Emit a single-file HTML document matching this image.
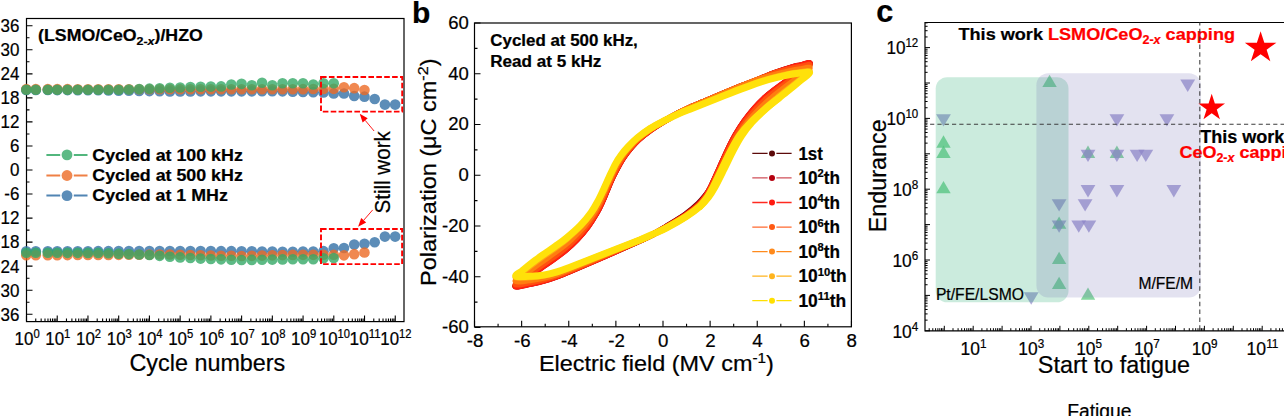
<!DOCTYPE html>
<html><head><meta charset="utf-8"><title>figure</title>
<style>
html,body{margin:0;padding:0;background:#fff;}
body{width:1284px;height:416px;overflow:hidden;}
svg{display:block;font-family:"Liberation Sans", sans-serif;}
svg text{font-family:"Liberation Sans", sans-serif;stroke:#000;stroke-width:0.22px;}
</style></head><body>
<svg width="1284" height="416" viewBox="0 0 1284 416">
<rect width="1284" height="416" fill="#fff"/>
<rect x="26.5" y="18.5" width="377.5" height="303.1" fill="none" stroke="#000" stroke-width="1.2"/>
<path d="M26.5 314.25h6M26.5 302.23h3M26.5 290.21h6M26.5 278.19h3M26.5 266.17h6M26.5 254.15h3M26.5 242.13h6M26.5 230.10h3M26.5 218.08h6M26.5 206.06h3M26.5 194.04h6M26.5 182.02h3M26.5 170.00h6M26.5 157.98h3M26.5 145.96h6M26.5 133.94h3M26.5 121.92h6M26.5 109.90h3M26.5 97.87h6M26.5 85.85h3M26.5 73.83h6M26.5 61.81h3M26.5 49.79h6M26.5 37.77h3M26.5 25.75h6M26.50 321.6v-6M35.75 321.6v-3M41.16 321.6v-3M45.00 321.6v-3M47.98 321.6v-3M50.41 321.6v-3M52.47 321.6v-3M54.25 321.6v-3M55.82 321.6v-3M57.23 321.6v-6M66.48 321.6v-3M71.89 321.6v-3M75.73 321.6v-3M78.71 321.6v-3M81.14 321.6v-3M83.20 321.6v-3M84.98 321.6v-3M86.55 321.6v-3M87.96 321.6v-6M97.21 321.6v-3M102.62 321.6v-3M106.46 321.6v-3M109.44 321.6v-3M111.87 321.6v-3M113.93 321.6v-3M115.71 321.6v-3M117.28 321.6v-3M118.69 321.6v-6M127.94 321.6v-3M133.35 321.6v-3M137.19 321.6v-3M140.17 321.6v-3M142.60 321.6v-3M144.66 321.6v-3M146.44 321.6v-3M148.01 321.6v-3M149.42 321.6v-6M158.67 321.6v-3M164.08 321.6v-3M167.92 321.6v-3M170.90 321.6v-3M173.33 321.6v-3M175.39 321.6v-3M177.17 321.6v-3M178.74 321.6v-3M180.15 321.6v-6M189.40 321.6v-3M194.81 321.6v-3M198.65 321.6v-3M201.63 321.6v-3M204.06 321.6v-3M206.12 321.6v-3M207.90 321.6v-3M209.47 321.6v-3M210.88 321.6v-6M220.13 321.6v-3M225.54 321.6v-3M229.38 321.6v-3M232.36 321.6v-3M234.79 321.6v-3M236.85 321.6v-3M238.63 321.6v-3M240.20 321.6v-3M241.61 321.6v-6M250.86 321.6v-3M256.27 321.6v-3M260.11 321.6v-3M263.09 321.6v-3M265.52 321.6v-3M267.58 321.6v-3M269.36 321.6v-3M270.93 321.6v-3M272.34 321.6v-6M281.59 321.6v-3M287.00 321.6v-3M290.84 321.6v-3M293.82 321.6v-3M296.25 321.6v-3M298.31 321.6v-3M300.09 321.6v-3M301.66 321.6v-3M303.07 321.6v-6M312.32 321.6v-3M317.73 321.6v-3M321.57 321.6v-3M324.55 321.6v-3M326.98 321.6v-3M329.04 321.6v-3M330.82 321.6v-3M332.39 321.6v-3M333.80 321.6v-6M343.05 321.6v-3M348.46 321.6v-3M352.30 321.6v-3M355.28 321.6v-3M357.71 321.6v-3M359.77 321.6v-3M361.55 321.6v-3M363.12 321.6v-3M364.53 321.6v-6M373.78 321.6v-3M379.19 321.6v-3M383.03 321.6v-3M386.01 321.6v-3M388.44 321.6v-3M390.50 321.6v-3M392.28 321.6v-3M393.85 321.6v-3M395.26 321.6v-6" stroke="#000" stroke-width="1.1" fill="none"/>
<text x="19.4" y="320.60" font-size="17.9" text-anchor="end" textLength="24.56" lengthAdjust="spacingAndGlyphs">-36</text>
<text x="19.4" y="296.56" font-size="17.9" text-anchor="end" textLength="24.56" lengthAdjust="spacingAndGlyphs">-30</text>
<text x="19.4" y="272.52" font-size="17.9" text-anchor="end" textLength="24.56" lengthAdjust="spacingAndGlyphs">-24</text>
<text x="19.4" y="248.48" font-size="17.9" text-anchor="end" textLength="24.56" lengthAdjust="spacingAndGlyphs">-18</text>
<text x="19.4" y="224.43" font-size="17.9" text-anchor="end" textLength="24.56" lengthAdjust="spacingAndGlyphs">-12</text>
<text x="19.4" y="200.39" font-size="17.9" text-anchor="end" textLength="15.11" lengthAdjust="spacingAndGlyphs">-6</text>
<text x="19.4" y="176.35" font-size="17.9" text-anchor="end" textLength="9.45" lengthAdjust="spacingAndGlyphs">0</text>
<text x="19.4" y="152.31" font-size="17.9" text-anchor="end" textLength="9.45" lengthAdjust="spacingAndGlyphs">6</text>
<text x="19.4" y="128.27" font-size="17.9" text-anchor="end" textLength="18.90" lengthAdjust="spacingAndGlyphs">12</text>
<text x="19.4" y="104.22" font-size="17.9" text-anchor="end" textLength="18.90" lengthAdjust="spacingAndGlyphs">18</text>
<text x="19.4" y="80.18" font-size="17.9" text-anchor="end" textLength="18.90" lengthAdjust="spacingAndGlyphs">24</text>
<text x="19.4" y="56.14" font-size="17.9" text-anchor="end" textLength="18.90" lengthAdjust="spacingAndGlyphs">30</text>
<text x="19.4" y="32.10" font-size="17.9" text-anchor="end" textLength="18.90" lengthAdjust="spacingAndGlyphs">36</text>
<text x="14.55" y="344.7" font-size="17.9" text-anchor="start" font-weight="normal" fill="#000" textLength="25.099999999999998" lengthAdjust="spacingAndGlyphs">10<tspan font-size="11.9" dy="-6.6">0</tspan></text>
<text x="45.28" y="344.7" font-size="17.9" text-anchor="start" font-weight="normal" fill="#000" textLength="25.099999999999998" lengthAdjust="spacingAndGlyphs">10<tspan font-size="11.9" dy="-6.6">1</tspan></text>
<text x="76.01" y="344.7" font-size="17.9" text-anchor="start" font-weight="normal" fill="#000" textLength="25.099999999999998" lengthAdjust="spacingAndGlyphs">10<tspan font-size="11.9" dy="-6.6">2</tspan></text>
<text x="106.74" y="344.7" font-size="17.9" text-anchor="start" font-weight="normal" fill="#000" textLength="25.099999999999998" lengthAdjust="spacingAndGlyphs">10<tspan font-size="11.9" dy="-6.6">3</tspan></text>
<text x="137.47" y="344.7" font-size="17.9" text-anchor="start" font-weight="normal" fill="#000" textLength="25.099999999999998" lengthAdjust="spacingAndGlyphs">10<tspan font-size="11.9" dy="-6.6">4</tspan></text>
<text x="168.2" y="344.7" font-size="17.9" text-anchor="start" font-weight="normal" fill="#000" textLength="25.099999999999998" lengthAdjust="spacingAndGlyphs">10<tspan font-size="11.9" dy="-6.6">5</tspan></text>
<text x="198.93" y="344.7" font-size="17.9" text-anchor="start" font-weight="normal" fill="#000" textLength="25.099999999999998" lengthAdjust="spacingAndGlyphs">10<tspan font-size="11.9" dy="-6.6">6</tspan></text>
<text x="229.66" y="344.7" font-size="17.9" text-anchor="start" font-weight="normal" fill="#000" textLength="25.099999999999998" lengthAdjust="spacingAndGlyphs">10<tspan font-size="11.9" dy="-6.6">7</tspan></text>
<text x="260.39" y="344.7" font-size="17.9" text-anchor="start" font-weight="normal" fill="#000" textLength="25.099999999999998" lengthAdjust="spacingAndGlyphs">10<tspan font-size="11.9" dy="-6.6">8</tspan></text>
<text x="291.12" y="344.7" font-size="17.9" text-anchor="start" font-weight="normal" fill="#000" textLength="25.099999999999998" lengthAdjust="spacingAndGlyphs">10<tspan font-size="11.9" dy="-6.6">9</tspan></text>
<text x="318.85" y="344.7" font-size="17.9" text-anchor="start" font-weight="normal" fill="#000" textLength="31.099999999999998" lengthAdjust="spacingAndGlyphs">10<tspan font-size="11.9" dy="-6.6">10</tspan></text>
<text x="349.58" y="344.7" font-size="17.9" text-anchor="start" font-weight="normal" fill="#000" textLength="31.099999999999998" lengthAdjust="spacingAndGlyphs">10<tspan font-size="11.9" dy="-6.6">11</tspan></text>
<text x="380.31" y="344.7" font-size="17.9" text-anchor="start" font-weight="normal" fill="#000" textLength="31.099999999999998" lengthAdjust="spacingAndGlyphs">10<tspan font-size="11.9" dy="-6.6">12</tspan></text>
<text x="207.4" y="370.9" font-size="23.6" text-anchor="middle" textLength="155.8" lengthAdjust="spacingAndGlyphs">Cycle numbers</text>
<text x="38.1" y="40.5" font-size="16.4" font-weight="bold" textLength="164.7" lengthAdjust="spacingAndGlyphs">(LSMO/CeO<tspan font-size="11.5" dy="4.2">2-<tspan font-style="italic">x</tspan></tspan><tspan dy="-4.2">)/HZO</tspan></text>
<g fill="#3370A6" fill-opacity="0.8"><circle cx="26.30" cy="89.99" r="5.3"/><circle cx="26.30" cy="251.34" r="5.3"/><circle cx="35.80" cy="90.02" r="5.3"/><circle cx="35.80" cy="251.32" r="5.3"/><circle cx="47.80" cy="90.06" r="5.3"/><circle cx="47.80" cy="251.29" r="5.3"/><circle cx="57.25" cy="90.09" r="5.3"/><circle cx="57.25" cy="251.27" r="5.3"/><circle cx="67.49" cy="90.12" r="5.3"/><circle cx="67.49" cy="251.24" r="5.3"/><circle cx="77.73" cy="90.16" r="5.3"/><circle cx="77.73" cy="251.22" r="5.3"/><circle cx="87.97" cy="90.19" r="5.3"/><circle cx="87.97" cy="251.19" r="5.3"/><circle cx="98.21" cy="90.32" r="5.3"/><circle cx="98.21" cy="251.17" r="5.3"/><circle cx="108.45" cy="90.48" r="5.3"/><circle cx="108.45" cy="251.14" r="5.3"/><circle cx="118.69" cy="90.63" r="5.3"/><circle cx="118.69" cy="251.12" r="5.3"/><circle cx="128.93" cy="90.78" r="5.3"/><circle cx="128.93" cy="251.10" r="5.3"/><circle cx="139.17" cy="90.94" r="5.3"/><circle cx="139.17" cy="251.07" r="5.3"/><circle cx="149.41" cy="91.09" r="5.3"/><circle cx="149.41" cy="251.05" r="5.3"/><circle cx="159.65" cy="91.24" r="5.3"/><circle cx="159.65" cy="251.02" r="5.3"/><circle cx="169.89" cy="91.40" r="5.3"/><circle cx="169.89" cy="251.00" r="5.3"/><circle cx="180.13" cy="91.39" r="5.3"/><circle cx="180.13" cy="251.03" r="5.3"/><circle cx="190.37" cy="91.38" r="5.3"/><circle cx="190.37" cy="251.05" r="5.3"/><circle cx="200.61" cy="91.37" r="5.3"/><circle cx="200.61" cy="251.08" r="5.3"/><circle cx="210.85" cy="91.36" r="5.3"/><circle cx="210.85" cy="251.11" r="5.3"/><circle cx="221.09" cy="91.35" r="5.3"/><circle cx="221.09" cy="251.14" r="5.3"/><circle cx="231.33" cy="91.34" r="5.3"/><circle cx="231.33" cy="251.16" r="5.3"/><circle cx="241.57" cy="91.33" r="5.3"/><circle cx="241.57" cy="251.19" r="5.3"/><circle cx="251.81" cy="91.33" r="5.3"/><circle cx="251.81" cy="251.29" r="5.3"/><circle cx="262.05" cy="91.32" r="5.3"/><circle cx="262.05" cy="251.43" r="5.3"/><circle cx="272.29" cy="91.31" r="5.3"/><circle cx="272.29" cy="251.56" r="5.3"/><circle cx="282.53" cy="91.36" r="5.3"/><circle cx="282.53" cy="251.70" r="5.3"/><circle cx="292.77" cy="91.63" r="5.3"/><circle cx="292.77" cy="251.76" r="5.3"/><circle cx="303.01" cy="91.89" r="5.3"/><circle cx="303.01" cy="251.60" r="5.3"/><circle cx="313.25" cy="92.15" r="5.3"/><circle cx="313.25" cy="251.45" r="5.3"/><circle cx="323.49" cy="92.45" r="5.3"/><circle cx="323.49" cy="251.16" r="5.3"/><circle cx="333.73" cy="93.40" r="5.3"/><circle cx="333.73" cy="248.20" r="5.3"/><circle cx="343.97" cy="93.49" r="5.3"/><circle cx="343.97" cy="248.07" r="5.3"/><circle cx="354.21" cy="96.02" r="5.3"/><circle cx="354.21" cy="244.58" r="5.3"/><circle cx="364.45" cy="96.65" r="5.3"/><circle cx="364.45" cy="243.86" r="5.3"/><circle cx="374.69" cy="98.96" r="5.3"/><circle cx="374.69" cy="242.24" r="5.3"/><circle cx="384.93" cy="104.60" r="5.3"/><circle cx="384.93" cy="236.60" r="5.3"/><circle cx="395.17" cy="104.60" r="5.3"/><circle cx="395.17" cy="236.60" r="5.3"/></g>
<g fill="#EC6A24" fill-opacity="0.8"><circle cx="26.30" cy="89.13" r="5.3"/><circle cx="26.30" cy="255.22" r="5.3"/><circle cx="35.80" cy="89.14" r="5.3"/><circle cx="35.80" cy="255.19" r="5.3"/><circle cx="47.80" cy="89.15" r="5.3"/><circle cx="47.80" cy="255.16" r="5.3"/><circle cx="57.25" cy="89.16" r="5.3"/><circle cx="57.25" cy="255.13" r="5.3"/><circle cx="67.49" cy="89.17" r="5.3"/><circle cx="67.49" cy="255.10" r="5.3"/><circle cx="77.73" cy="89.18" r="5.3"/><circle cx="77.73" cy="255.07" r="5.3"/><circle cx="87.97" cy="89.19" r="5.3"/><circle cx="87.97" cy="255.04" r="5.3"/><circle cx="98.21" cy="89.20" r="5.3"/><circle cx="98.21" cy="255.01" r="5.3"/><circle cx="108.45" cy="89.21" r="5.3"/><circle cx="108.45" cy="254.94" r="5.3"/><circle cx="118.69" cy="89.22" r="5.3"/><circle cx="118.69" cy="254.87" r="5.3"/><circle cx="128.93" cy="89.23" r="5.3"/><circle cx="128.93" cy="254.79" r="5.3"/><circle cx="139.17" cy="89.24" r="5.3"/><circle cx="139.17" cy="254.72" r="5.3"/><circle cx="149.41" cy="89.25" r="5.3"/><circle cx="149.41" cy="254.65" r="5.3"/><circle cx="159.65" cy="89.26" r="5.3"/><circle cx="159.65" cy="254.57" r="5.3"/><circle cx="169.89" cy="89.27" r="5.3"/><circle cx="169.89" cy="254.50" r="5.3"/><circle cx="180.13" cy="89.28" r="5.3"/><circle cx="180.13" cy="254.75" r="5.3"/><circle cx="190.37" cy="89.29" r="5.3"/><circle cx="190.37" cy="255.00" r="5.3"/><circle cx="200.61" cy="89.30" r="5.3"/><circle cx="200.61" cy="255.25" r="5.3"/><circle cx="210.85" cy="89.30" r="5.3"/><circle cx="210.85" cy="255.50" r="5.3"/><circle cx="221.09" cy="89.30" r="5.3"/><circle cx="221.09" cy="255.68" r="5.3"/><circle cx="231.33" cy="89.30" r="5.3"/><circle cx="231.33" cy="255.82" r="5.3"/><circle cx="241.57" cy="89.30" r="5.3"/><circle cx="241.57" cy="255.95" r="5.3"/><circle cx="251.81" cy="89.30" r="5.3"/><circle cx="251.81" cy="255.83" r="5.3"/><circle cx="262.05" cy="89.30" r="5.3"/><circle cx="262.05" cy="255.58" r="5.3"/><circle cx="272.29" cy="89.30" r="5.3"/><circle cx="272.29" cy="255.33" r="5.3"/><circle cx="282.53" cy="89.28" r="5.3"/><circle cx="282.53" cy="255.08" r="5.3"/><circle cx="292.77" cy="89.20" r="5.3"/><circle cx="292.77" cy="254.89" r="5.3"/><circle cx="303.01" cy="89.13" r="5.3"/><circle cx="303.01" cy="254.87" r="5.3"/><circle cx="313.25" cy="89.05" r="5.3"/><circle cx="313.25" cy="254.85" r="5.3"/><circle cx="323.49" cy="88.97" r="5.3"/><circle cx="323.49" cy="254.82" r="5.3"/><circle cx="333.73" cy="88.86" r="5.3"/><circle cx="333.73" cy="254.81" r="5.3"/><circle cx="343.97" cy="87.23" r="5.3"/><circle cx="343.97" cy="255.36" r="5.3"/><circle cx="354.21" cy="88.16" r="5.3"/><circle cx="354.21" cy="254.15" r="5.3"/><circle cx="364.45" cy="90.00" r="5.3"/><circle cx="364.45" cy="252.50" r="5.3"/></g>
<g fill="#34A966" fill-opacity="0.8"><circle cx="26.30" cy="89.70" r="5.3"/><circle cx="26.30" cy="252.75" r="5.3"/><circle cx="35.80" cy="89.70" r="5.3"/><circle cx="35.80" cy="252.77" r="5.3"/><circle cx="47.80" cy="89.70" r="5.3"/><circle cx="47.80" cy="252.80" r="5.3"/><circle cx="57.25" cy="89.70" r="5.3"/><circle cx="57.25" cy="252.81" r="5.3"/><circle cx="67.49" cy="89.70" r="5.3"/><circle cx="67.49" cy="252.83" r="5.3"/><circle cx="77.73" cy="89.70" r="5.3"/><circle cx="77.73" cy="252.86" r="5.3"/><circle cx="87.97" cy="89.70" r="5.3"/><circle cx="87.97" cy="252.88" r="5.3"/><circle cx="98.21" cy="89.70" r="5.3"/><circle cx="98.21" cy="252.90" r="5.3"/><circle cx="108.45" cy="89.70" r="5.3"/><circle cx="108.45" cy="253.24" r="5.3"/><circle cx="118.69" cy="89.70" r="5.3"/><circle cx="118.69" cy="253.66" r="5.3"/><circle cx="128.93" cy="89.53" r="5.3"/><circle cx="128.93" cy="254.08" r="5.3"/><circle cx="139.17" cy="89.08" r="5.3"/><circle cx="139.17" cy="254.50" r="5.3"/><circle cx="149.41" cy="88.63" r="5.3"/><circle cx="149.41" cy="254.94" r="5.3"/><circle cx="159.65" cy="88.21" r="5.3"/><circle cx="159.65" cy="255.86" r="5.3"/><circle cx="169.89" cy="87.80" r="5.3"/><circle cx="169.89" cy="256.79" r="5.3"/><circle cx="180.13" cy="87.46" r="5.3"/><circle cx="180.13" cy="257.41" r="5.3"/><circle cx="190.37" cy="87.12" r="5.3"/><circle cx="190.37" cy="258.02" r="5.3"/><circle cx="200.61" cy="86.79" r="5.3"/><circle cx="200.61" cy="258.62" r="5.3"/><circle cx="210.85" cy="86.59" r="5.3"/><circle cx="210.85" cy="259.00" r="5.3"/><circle cx="221.09" cy="86.38" r="5.3"/><circle cx="221.09" cy="259.37" r="5.3"/><circle cx="231.33" cy="84.57" r="5.3"/><circle cx="231.33" cy="259.73" r="5.3"/><circle cx="241.57" cy="83.87" r="5.3"/><circle cx="241.57" cy="259.93" r="5.3"/><circle cx="251.81" cy="85.20" r="5.3"/><circle cx="251.81" cy="259.89" r="5.3"/><circle cx="262.05" cy="82.71" r="5.3"/><circle cx="262.05" cy="259.73" r="5.3"/><circle cx="272.29" cy="85.20" r="5.3"/><circle cx="272.29" cy="259.58" r="5.3"/><circle cx="282.53" cy="83.30" r="5.3"/><circle cx="282.53" cy="259.42" r="5.3"/><circle cx="292.77" cy="83.30" r="5.3"/><circle cx="292.77" cy="259.30" r="5.3"/><circle cx="303.01" cy="83.30" r="5.3"/><circle cx="303.01" cy="259.30" r="5.3"/><circle cx="313.25" cy="84.49" r="5.3"/><circle cx="313.25" cy="259.18" r="5.3"/><circle cx="323.49" cy="83.30" r="5.3"/><circle cx="323.49" cy="258.19" r="5.3"/><circle cx="333.73" cy="83.29" r="5.3"/><circle cx="333.73" cy="258.00" r="5.3"/></g>
<path d="M46.4 154.9H60.2M73.8 154.9H87.5" stroke="#34A966" stroke-opacity="0.85" stroke-width="2"/>
<circle cx="67" cy="154.9" r="5.4" fill="#34A966" fill-opacity="0.8"/>
<text x="92.3" y="160.6" font-size="16.3" font-weight="bold" textLength="150.5" lengthAdjust="spacingAndGlyphs">Cycled at 100 kHz</text>
<path d="M46.4 175.5H60.2M73.8 175.5H87.5" stroke="#EC6A24" stroke-opacity="0.85" stroke-width="2"/>
<circle cx="67" cy="175.5" r="5.4" fill="#EC6A24" fill-opacity="0.8"/>
<text x="92.3" y="181.2" font-size="16.3" font-weight="bold" textLength="150.5" lengthAdjust="spacingAndGlyphs">Cycled at 500 kHz</text>
<path d="M46.4 195.6H60.2M73.8 195.6H87.5" stroke="#3370A6" stroke-opacity="0.85" stroke-width="2"/>
<circle cx="67" cy="195.6" r="5.4" fill="#3370A6" fill-opacity="0.8"/>
<text x="92.3" y="201.29999999999998" font-size="16.3" font-weight="bold" textLength="135.5" lengthAdjust="spacingAndGlyphs">Cycled at 1 MHz</text>
<rect x="321" y="77" width="81.19999999999999" height="34.599999999999994" fill="none" stroke="#FF0000" stroke-width="1.9" stroke-dasharray="5.6 2.3"/>
<rect x="321" y="229" width="81.10000000000002" height="35.10000000000002" fill="none" stroke="#FF0000" stroke-width="1.9" stroke-dasharray="5.6 2.3"/>
<path d="M374.1 131L365.16 120.32" stroke="#FF0000" stroke-width="0.9"/><path d="M359.7 113.8L367.69 118.20L362.63 122.44Z" fill="#FF0000"/>
<path d="M372.7 209.9L363.68 220.28" stroke="#FF0000" stroke-width="0.9"/><path d="M358.1 226.7L361.18 218.12L366.17 222.45Z" fill="#FF0000"/>
<text transform="translate(389.9 213.6) rotate(-90)" font-size="22.3" textLength="82.5" lengthAdjust="spacingAndGlyphs">Still work</text>
<text x="411.9" y="23.4" font-size="30" font-weight="bold">b</text>
<path d="M809.51 64.18C811.48 61.77 802.62 65.29 800.07 65.75C797.51 66.22 798.33 65.75 794.17 66.95C790.01 68.15 780.74 70.98 775.10 72.95C769.45 74.92 766.14 76.49 760.30 78.77C754.46 81.05 745.94 84.28 740.05 86.63C734.16 88.97 730.82 90.42 724.98 92.85C719.14 95.28 710.82 98.75 705.00 101.20C699.18 103.65 694.21 105.72 690.08 107.56C685.95 109.40 684.80 109.82 680.23 112.23C675.66 114.63 667.63 119.04 662.65 122.02C657.66 124.99 654.37 127.17 650.34 130.09C646.31 133.01 641.82 136.54 638.49 139.56C635.16 142.57 632.68 145.50 630.35 148.20C628.02 150.90 626.31 153.23 624.52 155.76C622.74 158.30 621.62 159.91 619.65 163.40C617.68 166.90 614.83 172.36 612.72 176.76C610.62 181.15 608.79 185.68 607.04 189.77C605.29 193.87 603.98 197.47 602.22 201.30C600.46 205.14 598.87 208.68 596.48 212.81C594.09 216.93 591.23 221.58 587.89 226.06C584.55 230.54 580.21 235.71 576.46 239.67C572.72 243.63 569.16 246.70 565.44 249.81C561.72 252.92 557.84 255.67 554.15 258.35C550.45 261.03 547.33 263.03 543.26 265.87C539.19 268.71 534.37 272.06 529.73 275.39C525.09 278.73 515.15 284.54 515.42 285.88C515.70 287.21 526.52 284.31 531.37 283.38C536.23 282.46 540.14 281.56 544.54 280.31C548.94 279.07 553.52 277.48 557.76 275.93C561.99 274.38 562.07 274.36 569.96 271.03C577.85 267.70 593.47 261.01 605.08 255.97C616.69 250.92 631.64 244.37 639.64 240.77C647.63 237.16 648.66 236.66 653.07 234.33C657.48 232.00 660.68 230.11 666.08 226.78C671.48 223.45 680.11 218.23 685.49 214.38C690.86 210.52 695.00 206.77 698.33 203.66C701.66 200.55 703.38 198.37 705.46 195.69C707.54 193.02 708.43 192.15 710.79 187.60C713.15 183.05 716.75 174.64 719.60 168.41C722.45 162.18 725.21 155.75 727.89 150.20C730.57 144.65 732.94 139.87 735.68 135.09C738.43 130.31 741.17 125.99 744.36 121.55C747.54 117.11 751.40 112.31 754.77 108.46C758.15 104.60 761.59 101.22 764.60 98.41C767.61 95.61 768.89 94.65 772.83 91.62C776.76 88.58 782.11 84.77 788.22 80.20C794.34 75.63 807.53 66.59 809.51 64.18Z" fill="none" stroke="#5C0A0A" stroke-width="6.1" stroke-linejoin="round"/>
<path d="M809.50 63.99C811.52 61.56 802.62 65.12 800.07 65.59C797.51 66.06 798.33 65.58 794.16 66.80C790.00 68.03 780.74 70.96 775.10 72.95C769.45 74.95 766.14 76.49 760.30 78.77C754.46 81.05 745.94 84.28 740.05 86.63C734.16 88.97 730.82 90.42 724.98 92.85C719.14 95.28 710.82 98.75 705.00 101.20C699.18 103.65 694.21 105.72 690.08 107.56C685.95 109.40 684.81 109.81 680.23 112.23C675.66 114.64 667.62 119.05 662.64 122.04C657.65 125.02 654.36 127.20 650.34 130.13C646.32 133.06 641.84 136.59 638.51 139.60C635.19 142.62 632.72 145.54 630.40 148.23C628.08 150.93 626.38 153.24 624.61 155.77C622.83 158.30 621.71 159.90 619.74 163.40C617.77 166.90 614.90 172.37 612.80 176.77C610.70 181.16 608.87 185.69 607.13 189.78C605.38 193.87 604.08 197.46 602.32 201.30C600.57 205.14 598.98 208.69 596.60 212.81C594.22 216.94 591.37 221.59 588.05 226.07C584.74 230.55 580.42 235.74 576.69 239.70C572.96 243.67 569.38 246.76 565.66 249.88C561.94 253.01 558.07 255.76 554.38 258.44C550.68 261.11 547.59 263.09 543.51 265.94C539.43 268.78 534.58 272.13 529.90 275.49C525.22 278.85 515.17 284.75 515.41 286.09C515.66 287.43 526.52 284.48 531.37 283.54C536.23 282.60 540.14 281.69 544.54 280.44C548.94 279.18 553.52 277.58 557.76 276.03C561.99 274.48 562.07 274.45 569.96 271.12C577.85 267.78 593.47 261.08 605.08 256.03C616.69 250.97 631.63 244.41 639.63 240.79C647.63 237.17 648.65 236.61 653.06 234.31C657.47 232.01 660.66 230.26 666.09 227.01C671.52 223.75 680.20 218.60 685.63 214.79C691.06 210.98 695.31 207.31 698.66 204.15C702.02 200.99 703.74 198.59 705.75 195.83C707.76 193.07 708.41 192.17 710.70 187.60C712.99 183.03 716.65 174.64 719.49 168.41C722.34 162.17 725.09 155.76 727.77 150.20C730.44 144.65 732.81 139.86 735.55 135.08C738.28 130.30 741.02 125.98 744.18 121.54C747.35 117.10 751.18 112.30 754.53 108.44C757.89 104.59 761.29 101.23 764.29 98.42C767.29 95.62 768.58 94.65 772.53 91.61C776.47 88.58 781.80 84.80 787.96 80.19C794.12 75.59 807.49 66.42 809.50 63.99Z" fill="none" stroke="#B5000F" stroke-width="6.1" stroke-linejoin="round"/>
<path d="M809.50 63.80C811.56 61.34 802.62 64.95 800.07 65.43C797.51 65.90 798.32 65.40 794.16 66.65C790.00 67.91 780.74 70.93 775.10 72.95C769.46 74.97 766.14 76.49 760.30 78.77C754.46 81.05 745.94 84.28 740.05 86.63C734.16 88.97 730.82 90.42 724.98 92.85C719.14 95.28 710.82 98.75 705.00 101.20C699.18 103.65 694.21 105.72 690.08 107.56C685.95 109.40 684.81 109.81 680.23 112.23C675.66 114.64 667.61 119.07 662.63 122.06C657.65 125.05 654.36 127.24 650.35 130.18C646.33 133.11 641.85 136.64 638.54 139.65C635.22 142.67 632.76 145.58 630.45 148.27C628.15 150.96 626.46 153.26 624.69 155.78C622.92 158.30 621.80 159.90 619.83 163.39C617.86 166.89 614.98 172.37 612.88 176.77C610.77 181.17 608.95 185.69 607.21 189.78C605.47 193.87 604.17 197.46 602.42 201.30C600.67 205.14 599.08 208.69 596.72 212.82C594.35 216.95 591.52 221.60 588.22 226.09C584.92 230.57 580.63 235.76 576.91 239.74C573.19 243.72 569.60 246.83 565.88 249.96C562.16 253.09 558.29 255.85 554.60 258.53C550.92 261.20 547.85 263.15 543.76 266.00C539.67 268.84 534.79 272.21 530.07 275.59C525.34 278.97 515.18 284.95 515.40 286.30C515.62 287.65 526.51 284.66 531.37 283.70C536.23 282.74 540.14 281.82 544.54 280.56C548.94 279.30 553.52 277.69 557.76 276.13C562.00 274.57 562.07 274.55 569.96 271.21C577.85 267.87 593.47 261.15 605.08 256.09C616.69 251.02 631.63 244.45 639.62 240.82C647.62 237.19 648.64 236.55 653.05 234.29C657.46 232.02 660.64 230.41 666.10 227.23C671.55 224.05 680.29 218.97 685.77 215.21C691.26 211.44 695.62 207.85 699.00 204.64C702.38 201.44 704.10 198.80 706.04 195.96C707.97 193.12 708.38 192.20 710.61 187.61C712.83 183.01 716.55 174.64 719.39 168.41C722.23 162.17 724.97 155.76 727.65 150.20C730.32 144.65 732.68 139.85 735.41 135.07C738.14 130.29 740.86 125.97 744.01 121.53C747.15 117.09 750.97 112.28 754.30 108.43C757.63 104.59 760.99 101.24 763.98 98.43C766.97 95.63 768.28 94.65 772.23 91.61C776.18 88.57 781.48 84.82 787.70 80.18C793.91 75.55 807.44 66.26 809.50 63.80Z" fill="none" stroke="#FF2010" stroke-width="6.1" stroke-linejoin="round"/>
<path d="M809.53 65.61C811.17 63.39 802.62 66.56 800.06 66.97C797.50 67.38 798.34 67.09 794.18 68.08C790.02 69.08 780.75 71.17 775.10 72.95C769.45 74.73 766.14 76.49 760.30 78.77C754.46 81.05 745.94 84.28 740.05 86.63C734.16 88.97 730.82 90.42 724.98 92.85C719.14 95.28 710.82 98.75 705.00 101.20C699.18 103.65 694.21 105.72 690.08 107.56C685.95 109.40 684.79 109.84 680.23 112.23C675.67 114.61 667.71 118.93 662.72 121.86C657.74 124.78 654.38 126.87 650.31 129.76C646.25 132.65 641.70 136.17 638.31 139.20C634.92 142.23 632.35 145.18 629.95 147.93C627.55 150.68 625.74 153.10 623.91 155.69C622.08 158.27 620.93 159.94 618.96 163.45C617.00 166.95 614.24 172.33 612.14 176.71C610.05 181.10 608.20 185.65 606.42 189.75C604.64 193.85 603.26 197.49 601.45 201.32C599.65 205.16 598.04 208.65 595.58 212.76C593.11 216.86 590.12 221.51 586.65 225.95C583.19 230.40 578.61 235.55 574.79 239.43C570.98 243.32 567.49 246.22 563.77 249.26C560.04 252.30 556.17 255.01 552.44 257.70C548.71 260.39 545.38 262.58 541.38 265.40C537.39 268.23 532.80 271.50 528.48 274.64C524.17 277.79 515.03 283.03 515.51 284.29C516.00 285.54 526.55 283.01 531.39 282.20C536.23 281.38 540.15 280.57 544.54 279.40C548.93 278.23 553.51 276.69 557.75 275.19C561.98 273.68 562.08 273.64 569.97 270.36C577.86 267.09 593.46 260.48 605.08 255.51C616.70 250.54 631.69 244.10 639.68 240.56C647.67 237.02 648.63 236.46 653.04 234.27C657.44 232.07 660.63 230.53 666.10 227.40C671.58 224.28 680.36 219.25 685.88 215.52C691.41 211.79 695.80 208.24 699.25 205.02C702.70 201.80 704.55 199.13 706.59 196.22C708.63 193.31 709.18 192.20 711.48 187.56C713.79 182.93 717.53 174.65 720.42 168.42C723.31 162.19 726.11 155.73 728.82 150.19C731.53 144.64 733.89 139.92 736.70 135.15C739.51 130.39 742.36 126.05 745.66 121.61C748.97 117.18 753.01 112.41 756.56 108.53C760.10 104.65 763.85 101.15 766.93 98.33C770.02 95.52 771.19 94.65 775.07 91.64C778.95 88.63 784.46 84.61 790.20 80.27C795.94 75.93 807.89 67.82 809.53 65.61Z" fill="none" stroke="#FF4F0F" stroke-width="6.1" stroke-linejoin="round"/>
<path d="M809.57 68.36C810.58 66.51 802.60 69.01 800.04 69.32C797.48 69.64 798.37 69.39 794.21 70.27C790.06 71.14 780.76 73.13 775.11 74.58C769.46 76.03 766.14 76.97 760.29 78.98C754.45 80.99 745.94 84.31 740.05 86.63C734.16 88.94 730.82 90.42 724.98 92.85C719.14 95.28 710.82 98.75 705.00 101.20C699.18 103.65 694.21 105.72 690.08 107.56C685.95 109.40 684.77 109.89 680.23 112.23C675.70 114.56 667.86 118.73 662.87 121.55C657.87 124.36 654.42 126.30 650.27 129.13C646.12 131.96 641.48 135.47 637.97 138.51C634.46 141.56 631.73 144.58 629.19 147.42C626.65 150.26 624.64 152.86 622.72 155.55C620.79 158.23 619.59 160.01 617.64 163.53C615.69 167.04 613.10 172.26 611.03 176.63C608.95 180.99 607.05 185.59 605.21 189.71C603.37 193.83 601.87 197.53 599.98 201.35C598.08 205.18 596.45 208.59 593.83 212.66C591.22 216.73 587.98 221.37 584.27 225.75C580.55 230.14 575.51 235.23 571.56 238.97C567.60 242.71 564.28 245.28 560.54 248.20C556.80 251.11 552.94 253.73 549.14 256.44C545.34 259.16 541.60 261.71 537.76 264.50C533.91 267.29 529.75 270.41 526.07 273.20C522.39 275.99 514.80 280.10 515.69 281.21C516.58 282.33 526.61 280.50 531.42 279.90C536.23 279.30 540.15 278.65 544.53 277.63C548.92 276.60 553.48 275.17 557.73 273.75C561.97 272.32 562.08 272.27 569.98 269.08C577.87 265.89 593.46 259.44 605.09 254.62C616.72 249.81 631.77 243.57 639.76 240.17C647.75 236.77 648.63 236.32 653.02 234.23C657.41 232.15 660.61 230.70 666.11 227.66C671.62 224.62 680.46 219.68 686.05 216.00C691.63 212.32 696.08 208.82 699.64 205.59C703.20 202.36 705.23 199.63 707.43 196.61C709.62 193.60 710.39 192.20 712.82 187.50C715.25 182.80 719.03 174.66 721.99 168.43C724.96 162.21 727.83 155.69 730.61 150.16C733.39 144.63 735.74 140.01 738.67 135.27C741.60 130.54 744.64 126.17 748.20 121.74C751.75 117.31 756.13 112.61 760.00 108.68C763.87 104.75 768.20 101.01 771.43 98.18C774.66 95.34 775.64 94.65 779.40 91.69C783.17 88.72 788.99 84.29 794.02 80.41C799.05 76.52 808.57 70.21 809.57 68.36Z" fill="none" stroke="#FF7D10" stroke-width="6.1" stroke-linejoin="round"/>
<path d="M809.62 71.59C809.88 70.18 802.58 71.88 800.02 72.08C797.46 72.29 798.40 72.01 794.25 72.83C790.10 73.64 780.80 75.57 775.13 76.98C769.46 78.40 766.07 79.38 760.23 81.33C754.38 83.29 745.95 86.48 740.07 88.71C734.20 90.95 730.83 92.39 724.98 94.75C719.13 97.11 710.81 100.50 704.98 102.86C699.16 105.22 694.15 107.20 690.01 108.90C685.87 110.61 684.64 111.04 680.14 113.09C675.65 115.14 668.03 118.63 663.04 121.18C658.05 123.73 654.46 125.63 650.21 128.38C645.96 131.14 641.22 134.64 637.57 137.71C633.92 140.78 631.00 143.87 628.30 146.82C625.59 149.76 623.36 152.58 621.32 155.38C619.29 158.18 618.02 160.10 616.09 163.62C614.15 167.15 611.76 172.18 609.71 176.52C607.66 180.86 605.71 185.51 603.80 189.66C601.88 193.80 600.24 197.58 598.24 201.39C596.24 205.21 594.59 208.53 591.79 212.55C589.00 216.57 585.47 221.20 581.47 225.52C577.46 229.83 571.88 234.85 567.76 238.42C563.64 242.00 560.51 244.19 556.76 246.95C553.01 249.70 549.15 252.22 545.27 254.97C541.40 257.72 537.18 260.68 533.50 263.44C529.83 266.19 526.17 269.14 523.24 271.51C520.30 273.87 514.52 276.66 515.89 277.61C517.26 278.56 526.69 277.55 531.46 277.21C536.23 276.87 540.16 276.41 544.53 275.55C548.90 274.69 553.46 273.39 557.70 272.06C561.94 270.73 562.09 270.65 569.99 267.57C577.88 264.50 593.45 258.23 605.09 253.59C616.74 248.94 631.87 242.95 639.86 239.71C647.84 236.48 648.62 236.15 653.00 234.19C657.38 232.24 660.58 230.91 666.12 227.97C671.67 225.03 680.58 220.18 686.24 216.56C691.90 212.95 696.40 209.51 700.09 206.26C703.79 203.01 706.03 200.21 708.41 197.07C710.79 193.93 711.82 192.19 714.39 187.42C716.96 182.65 720.79 174.67 723.84 168.45C726.89 162.23 729.86 155.64 732.71 150.13C735.57 144.62 737.90 140.12 740.97 135.42C744.05 130.71 747.32 126.32 751.16 121.89C755.01 117.46 759.79 112.84 764.04 108.86C768.30 104.87 773.30 100.85 776.70 97.99C780.11 95.14 780.85 94.64 784.48 91.74C788.12 88.83 794.31 83.92 798.50 80.56C802.69 77.21 809.37 73.00 809.62 71.59Z" fill="none" stroke="#FFA514" stroke-width="6.1" stroke-linejoin="round"/>
<path d="M809.64 72.85C809.57 71.59 802.58 72.95 800.01 73.09C797.45 73.24 798.41 72.94 794.26 73.73C790.12 74.52 780.81 76.41 775.13 77.81C769.46 79.21 766.05 80.21 760.21 82.13C754.36 84.06 745.95 87.17 740.08 89.37C734.21 91.56 730.83 92.99 724.98 95.31C719.13 97.63 710.81 100.98 704.98 103.29C699.15 105.60 694.13 107.53 689.99 109.17C685.85 110.80 684.65 111.06 680.14 113.10C675.63 115.14 667.93 118.84 662.94 121.40C657.95 123.96 654.44 125.73 650.21 128.44C645.98 131.15 641.23 134.63 637.56 137.68C633.89 140.74 630.95 143.81 628.20 146.75C625.44 149.69 623.11 152.53 621.03 155.34C618.95 158.16 617.64 160.12 615.71 163.64C613.79 167.17 611.50 172.17 609.47 176.50C607.43 180.84 605.44 185.50 603.50 189.65C601.55 193.80 599.83 197.59 597.78 201.40C595.72 205.21 594.05 208.51 591.16 212.51C588.27 216.52 584.59 221.15 580.43 225.43C576.27 229.71 570.41 234.70 566.20 238.20C561.99 241.70 558.94 243.74 555.18 246.43C551.42 249.12 547.56 251.59 543.65 254.35C539.73 257.11 535.28 260.24 531.69 262.98C528.10 265.73 524.74 268.65 522.13 270.84C519.51 273.03 514.42 275.25 515.97 276.15C517.53 277.05 526.71 276.44 531.47 276.24C536.23 276.03 540.16 275.67 544.53 274.90C548.90 274.13 553.45 272.89 557.70 271.61C561.94 270.33 562.09 270.25 569.99 267.23C577.89 264.21 593.45 258.04 605.09 253.49C616.73 248.94 631.83 243.13 639.82 239.91C647.80 236.69 648.60 236.14 652.99 234.17C657.37 232.21 660.60 231.09 666.13 228.13C671.67 225.17 680.54 220.09 686.20 216.44C691.86 212.79 696.36 209.46 700.08 206.24C703.80 203.02 706.08 200.26 708.53 197.12C710.97 193.99 712.13 192.18 714.77 187.40C717.41 182.63 721.27 174.67 724.37 168.46C727.47 162.24 730.48 155.62 733.38 150.12C736.27 144.62 738.59 140.16 741.74 135.47C744.89 130.77 748.29 126.37 752.28 121.94C756.28 117.52 761.27 112.94 765.73 108.93C770.19 104.92 775.55 100.77 779.05 97.91C782.55 95.05 783.16 94.64 786.72 91.76C790.29 88.88 796.60 83.78 800.42 80.63C804.24 77.48 809.71 74.11 809.64 72.85Z" fill="none" stroke="#FFE10A" stroke-width="7.0" stroke-linejoin="round"/>
<path d="M700.08 206.24C701.35 204.66 705.58 199.87 707.71 196.74C709.84 193.62 710.48 192.22 712.87 187.50C715.27 182.78 719.03 174.66 722.07 168.43C725.10 162.21 728.13 155.67 731.08 150.15C734.02 144.64 736.41 140.05 739.75 135.34C743.08 130.63 746.82 126.29 751.09 121.88C755.35 117.48 760.67 112.91 765.33 108.91C769.99 104.92 776.76 99.75 779.05 97.91" fill="none" stroke="#FFE10A" stroke-width="7.0" stroke-linejoin="round" stroke-linecap="round"/>
<rect x="474.5" y="23.0" width="376.9" height="303.8" fill="none" stroke="#000" stroke-width="1.2"/>
<path d="M474.5 327.50h6M474.5 302.12h3M474.5 276.75h6M474.5 251.38h3M474.5 226.00h6M474.5 200.62h3M474.5 175.25h6M474.5 149.88h3M474.5 124.50h6M474.5 99.12h3M474.5 73.75h6M474.5 48.38h3M474.5 23.00h6M474.52 326.8v-6M498.08 326.8v-3M521.64 326.8v-6M545.20 326.8v-3M568.76 326.8v-6M592.32 326.8v-3M615.88 326.8v-6M639.44 326.8v-3M663.00 326.8v-6M686.56 326.8v-3M710.12 326.8v-6M733.68 326.8v-3M757.24 326.8v-6M780.80 326.8v-3M804.36 326.8v-6M827.92 326.8v-3M851.48 326.8v-6" stroke="#000" stroke-width="1.1" fill="none"/>
<text x="468.8" y="333.30" font-size="18.5" text-anchor="end">-60</text>
<text x="468.8" y="282.55" font-size="18.5" text-anchor="end">-40</text>
<text x="468.8" y="231.80" font-size="18.5" text-anchor="end">-20</text>
<text x="468.8" y="181.05" font-size="18.5" text-anchor="end">0</text>
<text x="468.8" y="130.30" font-size="18.5" text-anchor="end">20</text>
<text x="468.8" y="79.55" font-size="18.5" text-anchor="end">40</text>
<text x="468.8" y="28.80" font-size="18.5" text-anchor="end">60</text>
<text x="475.12" y="347.1" font-size="18.7" text-anchor="middle">-8</text>
<text x="522.24" y="347.1" font-size="18.7" text-anchor="middle">-6</text>
<text x="569.36" y="347.1" font-size="18.7" text-anchor="middle">-4</text>
<text x="616.48" y="347.1" font-size="18.7" text-anchor="middle">-2</text>
<text x="663.30" y="347.1" font-size="18.7" text-anchor="middle">0</text>
<text x="710.42" y="347.1" font-size="18.7" text-anchor="middle">2</text>
<text x="757.54" y="347.1" font-size="18.7" text-anchor="middle">4</text>
<text x="804.66" y="347.1" font-size="18.7" text-anchor="middle">6</text>
<text x="851.78" y="347.1" font-size="18.7" text-anchor="middle">8</text>
<text x="538.9" y="371.3" font-size="22.3" textLength="235" lengthAdjust="spacingAndGlyphs">Electric field (MV cm<tspan font-size="14.5" dy="-8">-1</tspan><tspan dy="8">)</tspan></text>
<text transform="translate(435.9 285.9) rotate(-90)" font-size="22.3" textLength="227.5" lengthAdjust="spacingAndGlyphs">Polarization (μC cm<tspan font-size="15.4" dy="-8.3">-2</tspan><tspan dy="8.3">)</tspan></text>
<text x="490.3" y="46.2" font-size="15.6" font-weight="bold" textLength="147.5" lengthAdjust="spacingAndGlyphs">Cycled at 500 kHz,</text>
<text x="490.3" y="66.9" font-size="15.6" font-weight="bold" textLength="111" lengthAdjust="spacingAndGlyphs">Read at 5 kHz</text>
<path d="M752.3 153.40H767.6M776.4 153.40H791.6" stroke="#5C0A0A" stroke-width="1.3"/>
<circle cx="772" cy="153.40" r="3" fill="#5C0A0A"/>
<text x="798.4" y="159.70" font-size="17.6" font-weight="bold" textLength="24.4" lengthAdjust="spacingAndGlyphs">1st</text>
<path d="M752.3 177.95H767.6M776.4 177.95H791.6" stroke="#D0505A" stroke-width="1.3"/>
<circle cx="772" cy="177.95" r="3" fill="#B5000F"/>
<text x="798.4" y="184.25" font-size="17.6" font-weight="bold" textLength="41.5" lengthAdjust="spacingAndGlyphs">10<tspan font-size="11.4" dy="-6.8">2</tspan><tspan dy="6.8">th</tspan></text>
<path d="M752.3 202.50H767.6M776.4 202.50H791.6" stroke="#FF2A20" stroke-width="1.3"/>
<circle cx="772" cy="202.50" r="3" fill="#FF1A10"/>
<text x="798.4" y="208.80" font-size="17.6" font-weight="bold" textLength="41.5" lengthAdjust="spacingAndGlyphs">10<tspan font-size="11.4" dy="-6.8">4</tspan><tspan dy="6.8">th</tspan></text>
<path d="M752.3 227.05H767.6M776.4 227.05H791.6" stroke="#FF6A30" stroke-width="1.3"/>
<circle cx="772" cy="227.05" r="3" fill="#FF5A14"/>
<text x="798.4" y="233.35" font-size="17.6" font-weight="bold" textLength="41.5" lengthAdjust="spacingAndGlyphs">10<tspan font-size="11.4" dy="-6.8">6</tspan><tspan dy="6.8">th</tspan></text>
<path d="M752.3 251.60H767.6M776.4 251.60H791.6" stroke="#FF8A1C" stroke-width="1.3"/>
<circle cx="772" cy="251.60" r="3" fill="#FF8A1C"/>
<text x="798.4" y="257.90" font-size="17.6" font-weight="bold" textLength="41.5" lengthAdjust="spacingAndGlyphs">10<tspan font-size="11.4" dy="-6.8">8</tspan><tspan dy="6.8">th</tspan></text>
<path d="M752.3 276.15H767.6M776.4 276.15H791.6" stroke="#FFB41E" stroke-width="1.3"/>
<circle cx="772" cy="276.15" r="3" fill="#FFB41E"/>
<text x="798.4" y="282.45" font-size="17.6" font-weight="bold" textLength="48.3" lengthAdjust="spacingAndGlyphs">10<tspan font-size="11.4" dy="-6.8">10</tspan><tspan dy="6.8">th</tspan></text>
<path d="M752.3 300.70H767.6M776.4 300.70H791.6" stroke="#FFE000" stroke-width="1.3"/>
<circle cx="772" cy="300.70" r="3" fill="#FFE000"/>
<text x="798.4" y="307.00" font-size="17.6" font-weight="bold" textLength="47.8" lengthAdjust="spacingAndGlyphs">10<tspan font-size="11.4" dy="-6.8">11</tspan><tspan dy="6.8">th</tspan></text>
<text x="876.2" y="21.75" font-size="30.6" font-weight="bold">c</text>
<path d="M1049.56 74.80L1056.76 87.10L1042.36 87.10Z" fill="rgb(89,200,125)" fill-opacity="0.73"/>
<path d="M943.50 135.33L950.70 147.63L936.30 147.63Z" fill="rgb(89,200,125)" fill-opacity="0.73"/>
<path d="M943.50 145.60L950.70 157.90L936.30 157.90Z" fill="rgb(89,200,125)" fill-opacity="0.73"/>
<path d="M943.50 181.00L950.70 193.30L936.30 193.30Z" fill="rgb(89,200,125)" fill-opacity="0.73"/>
<path d="M1088.00 145.60L1095.20 157.90L1080.80 157.90Z" fill="rgb(89,200,125)" fill-opacity="0.73"/>
<path d="M1116.90 145.60L1124.10 157.90L1109.70 157.90Z" fill="rgb(89,200,125)" fill-opacity="0.73"/>
<path d="M1059.10 216.40L1066.30 228.70L1051.90 228.70Z" fill="rgb(89,200,125)" fill-opacity="0.73"/>
<path d="M1059.10 251.80L1066.30 264.10L1051.90 264.10Z" fill="rgb(89,200,125)" fill-opacity="0.73"/>
<path d="M1059.10 276.76L1066.30 289.06L1051.90 289.06Z" fill="rgb(89,200,125)" fill-opacity="0.73"/>
<path d="M1088.00 287.38L1095.20 299.68L1080.80 299.68Z" fill="rgb(89,200,125)" fill-opacity="0.73"/>
<path d="M943.50 126.60L950.90 114.30L936.10 114.30Z" fill="rgb(147,139,204)" fill-opacity="0.73"/>
<path d="M1116.90 126.60L1124.30 114.30L1109.50 114.30Z" fill="rgb(147,139,204)" fill-opacity="0.73"/>
<path d="M1166.90 126.60L1174.30 114.30L1159.50 114.30Z" fill="rgb(147,139,204)" fill-opacity="0.73"/>
<path d="M1187.70 91.91L1195.11 79.61L1180.30 79.61Z" fill="rgb(147,139,204)" fill-opacity="0.73"/>
<path d="M1088.00 162.00L1095.40 149.70L1080.60 149.70Z" fill="rgb(147,139,204)" fill-opacity="0.73"/>
<path d="M1116.90 162.00L1124.30 149.70L1109.50 149.70Z" fill="rgb(147,139,204)" fill-opacity="0.73"/>
<path d="M1137.13 162.00L1144.53 149.70L1129.73 149.70Z" fill="rgb(147,139,204)" fill-opacity="0.73"/>
<path d="M1145.80 162.00L1153.20 149.70L1138.40 149.70Z" fill="rgb(147,139,204)" fill-opacity="0.73"/>
<path d="M1088.00 197.40L1095.40 185.10L1080.60 185.10Z" fill="rgb(147,139,204)" fill-opacity="0.73"/>
<path d="M1116.90 197.40L1124.30 185.10L1109.50 185.10Z" fill="rgb(147,139,204)" fill-opacity="0.73"/>
<path d="M1173.83 197.40L1181.23 185.10L1166.43 185.10Z" fill="rgb(147,139,204)" fill-opacity="0.73"/>
<path d="M1059.10 211.56L1066.50 199.26L1051.70 199.26Z" fill="rgb(147,139,204)" fill-opacity="0.73"/>
<path d="M1085.11 211.56L1092.51 199.26L1077.71 199.26Z" fill="rgb(147,139,204)" fill-opacity="0.73"/>
<path d="M1059.10 232.80L1066.50 220.50L1051.70 220.50Z" fill="rgb(147,139,204)" fill-opacity="0.73"/>
<path d="M1078.75 232.80L1086.15 220.50L1071.35 220.50Z" fill="rgb(147,139,204)" fill-opacity="0.73"/>
<path d="M1088.87 232.80L1096.27 220.50L1081.47 220.50Z" fill="rgb(147,139,204)" fill-opacity="0.73"/>
<path d="M1031.21 304.66L1038.61 292.36L1023.81 292.36Z" fill="rgb(147,139,204)" fill-opacity="0.73"/>
<rect x="935.7" y="77.2" width="132.79999999999995" height="225.10000000000002" rx="11.5" fill="rgb(47,175,119)" fill-opacity="0.25"/>
<rect x="1036.4" y="73.2" width="164.5" height="224.3" rx="12" fill="rgb(115,110,180)" fill-opacity="0.2"/>
<path d="M1260.60 31.20L1264.33 42.67L1276.39 42.67L1266.63 49.76L1270.36 61.23L1260.60 54.14L1250.84 61.23L1254.57 49.76L1244.81 42.67L1256.87 42.67Z" fill="#FF0000"/>
<path d="M1211.70 93.80L1214.84 103.47L1225.01 103.47L1216.79 109.45L1219.93 119.13L1211.70 113.15L1203.47 119.13L1206.61 109.45L1198.39 103.47L1208.56 103.47Z" fill="#FF0000"/>
<path d="M1284 22.5H925.0V330.8H1284" fill="none" stroke="#000" stroke-width="1.2"/>
<path d="M925.0 330.80h5M925.0 320.14h2.6M925.0 313.91h2.6M925.0 309.49h2.6M925.0 306.06h2.6M925.0 303.25h2.6M925.0 300.88h2.6M925.0 298.83h2.6M925.0 297.02h2.6M925.0 295.40h5M925.0 284.74h2.6M925.0 278.51h2.6M925.0 274.09h2.6M925.0 270.66h2.6M925.0 267.85h2.6M925.0 265.48h2.6M925.0 263.43h2.6M925.0 261.62h2.6M925.0 260.00h5M925.0 249.34h2.6M925.0 243.11h2.6M925.0 238.69h2.6M925.0 235.26h2.6M925.0 232.45h2.6M925.0 230.08h2.6M925.0 228.03h2.6M925.0 226.22h2.6M925.0 224.60h5M925.0 213.94h2.6M925.0 207.71h2.6M925.0 203.29h2.6M925.0 199.86h2.6M925.0 197.05h2.6M925.0 194.68h2.6M925.0 192.63h2.6M925.0 190.82h2.6M925.0 189.20h5M925.0 178.54h2.6M925.0 172.31h2.6M925.0 167.89h2.6M925.0 164.46h2.6M925.0 161.65h2.6M925.0 159.28h2.6M925.0 157.23h2.6M925.0 155.42h2.6M925.0 153.80h5M925.0 143.14h2.6M925.0 136.91h2.6M925.0 132.49h2.6M925.0 129.06h2.6M925.0 126.25h2.6M925.0 123.88h2.6M925.0 121.83h2.6M925.0 120.02h2.6M925.0 118.40h5M925.0 107.74h2.6M925.0 101.51h2.6M925.0 97.09h2.6M925.0 93.66h2.6M925.0 90.85h2.6M925.0 88.48h2.6M925.0 86.43h2.6M925.0 84.62h2.6M925.0 83.00h5M925.0 72.34h2.6M925.0 66.11h2.6M925.0 61.69h2.6M925.0 58.26h2.6M925.0 55.45h2.6M925.0 53.08h2.6M925.0 51.03h2.6M925.0 49.22h2.6M925.0 47.60h5M925.0 36.94h2.6M925.0 30.71h2.6M925.0 26.29h2.6M925.0 22.86h2.6M944.30 330.8v-5M973.20 330.8v-5M1002.10 330.8v-5M1031.00 330.8v-5M1059.90 330.8v-5M1088.80 330.8v-5M1117.70 330.8v-5M1146.60 330.8v-5M1175.50 330.8v-5M1204.40 330.8v-5M1233.30 330.8v-5M1262.20 330.8v-5M929.19 330.8v-2.6M932.80 330.8v-2.6M935.60 330.8v-2.6M937.89 330.8v-2.6M939.82 330.8v-2.6M941.50 330.8v-2.6M942.98 330.8v-2.6M953.00 330.8v-2.6M958.09 330.8v-2.6M961.70 330.8v-2.6M964.50 330.8v-2.6M966.79 330.8v-2.6M968.72 330.8v-2.6M970.40 330.8v-2.6M971.88 330.8v-2.6M981.90 330.8v-2.6M986.99 330.8v-2.6M990.60 330.8v-2.6M993.40 330.8v-2.6M995.69 330.8v-2.6M997.62 330.8v-2.6M999.30 330.8v-2.6M1000.78 330.8v-2.6M1010.80 330.8v-2.6M1015.89 330.8v-2.6M1019.50 330.8v-2.6M1022.30 330.8v-2.6M1024.59 330.8v-2.6M1026.52 330.8v-2.6M1028.20 330.8v-2.6M1029.68 330.8v-2.6M1039.70 330.8v-2.6M1044.79 330.8v-2.6M1048.40 330.8v-2.6M1051.20 330.8v-2.6M1053.49 330.8v-2.6M1055.42 330.8v-2.6M1057.10 330.8v-2.6M1058.58 330.8v-2.6M1068.60 330.8v-2.6M1073.69 330.8v-2.6M1077.30 330.8v-2.6M1080.10 330.8v-2.6M1082.39 330.8v-2.6M1084.32 330.8v-2.6M1086.00 330.8v-2.6M1087.48 330.8v-2.6M1097.50 330.8v-2.6M1102.59 330.8v-2.6M1106.20 330.8v-2.6M1109.00 330.8v-2.6M1111.29 330.8v-2.6M1113.22 330.8v-2.6M1114.90 330.8v-2.6M1116.38 330.8v-2.6M1126.40 330.8v-2.6M1131.49 330.8v-2.6M1135.10 330.8v-2.6M1137.90 330.8v-2.6M1140.19 330.8v-2.6M1142.12 330.8v-2.6M1143.80 330.8v-2.6M1145.28 330.8v-2.6M1155.30 330.8v-2.6M1160.39 330.8v-2.6M1164.00 330.8v-2.6M1166.80 330.8v-2.6M1169.09 330.8v-2.6M1171.02 330.8v-2.6M1172.70 330.8v-2.6M1174.18 330.8v-2.6M1184.20 330.8v-2.6M1189.29 330.8v-2.6M1192.90 330.8v-2.6M1195.70 330.8v-2.6M1197.99 330.8v-2.6M1199.92 330.8v-2.6M1201.60 330.8v-2.6M1203.08 330.8v-2.6M1213.10 330.8v-2.6M1218.19 330.8v-2.6M1221.80 330.8v-2.6M1224.60 330.8v-2.6M1226.89 330.8v-2.6M1228.82 330.8v-2.6M1230.50 330.8v-2.6M1231.98 330.8v-2.6M1242.00 330.8v-2.6M1247.09 330.8v-2.6M1250.70 330.8v-2.6M1253.50 330.8v-2.6M1255.79 330.8v-2.6M1257.72 330.8v-2.6M1259.40 330.8v-2.6M1260.88 330.8v-2.6M1270.90 330.8v-2.6M1275.99 330.8v-2.6M1279.60 330.8v-2.6M1282.40 330.8v-2.6" stroke="#000" stroke-width="1" fill="none"/>
<text x="886.4" y="54.3" font-size="19" text-anchor="start" font-weight="normal" fill="#000" textLength="31.9" lengthAdjust="spacingAndGlyphs">10<tspan font-size="12.8" dy="-7.0">12</tspan></text>
<text x="886.4" y="125.1" font-size="19" text-anchor="start" font-weight="normal" fill="#000" textLength="31.9" lengthAdjust="spacingAndGlyphs">10<tspan font-size="12.8" dy="-7.0">10</tspan></text>
<text x="892.4" y="195.9" font-size="19" text-anchor="start" font-weight="normal" fill="#000" textLength="25.9" lengthAdjust="spacingAndGlyphs">10<tspan font-size="12.8" dy="-7.0">8</tspan></text>
<text x="892.4" y="266.7" font-size="19" text-anchor="start" font-weight="normal" fill="#000" textLength="25.9" lengthAdjust="spacingAndGlyphs">10<tspan font-size="12.8" dy="-7.0">6</tspan></text>
<text x="892.4" y="337.5" font-size="19" text-anchor="start" font-weight="normal" fill="#000" textLength="25.9" lengthAdjust="spacingAndGlyphs">10<tspan font-size="12.8" dy="-7.0">4</tspan></text>
<text x="960.55" y="354.8" font-size="19" text-anchor="start" font-weight="normal" fill="#000" textLength="25.9" lengthAdjust="spacingAndGlyphs">10<tspan font-size="12.8" dy="-7.0">1</tspan></text>
<text x="1018.35" y="354.8" font-size="19" text-anchor="start" font-weight="normal" fill="#000" textLength="25.9" lengthAdjust="spacingAndGlyphs">10<tspan font-size="12.8" dy="-7.0">3</tspan></text>
<text x="1076.15" y="354.8" font-size="19" text-anchor="start" font-weight="normal" fill="#000" textLength="25.9" lengthAdjust="spacingAndGlyphs">10<tspan font-size="12.8" dy="-7.0">5</tspan></text>
<text x="1133.95" y="354.8" font-size="19" text-anchor="start" font-weight="normal" fill="#000" textLength="25.9" lengthAdjust="spacingAndGlyphs">10<tspan font-size="12.8" dy="-7.0">7</tspan></text>
<text x="1191.75" y="354.8" font-size="19" text-anchor="start" font-weight="normal" fill="#000" textLength="25.9" lengthAdjust="spacingAndGlyphs">10<tspan font-size="12.8" dy="-7.0">9</tspan></text>
<text x="1246.55" y="354.8" font-size="19" text-anchor="start" font-weight="normal" fill="#000" textLength="31.9" lengthAdjust="spacingAndGlyphs">10<tspan font-size="12.8" dy="-7.0">11</tspan></text>
<text x="1037.8" y="372.6" font-size="24.6" textLength="152.2" lengthAdjust="spacingAndGlyphs">Start to fatigue</text>
<text x="1067.2" y="418.4" font-size="19.6" textLength="64.4" lengthAdjust="spacingAndGlyphs">Fatigue</text>
<text transform="translate(885.6 232.3) rotate(-90)" font-size="24.2" textLength="113" lengthAdjust="spacingAndGlyphs">Endurance</text>
<text x="958.5" y="39.5" font-size="17.4" font-weight="bold" textLength="276.5" lengthAdjust="spacingAndGlyphs">This work <tspan fill="#FF0000" stroke="#FF0000">LSMO/CeO<tspan font-size="12" dy="4.3">2-<tspan font-style="italic">x</tspan></tspan><tspan dy="-4.3"> capping</tspan></tspan></text>
<text x="1200.2" y="143" font-size="17.6" font-weight="bold" textLength="84.2" lengthAdjust="spacingAndGlyphs">This work</text>
<text x="1179.4" y="158" font-size="17.4" font-weight="bold" fill="#FF0000" style="stroke:#FF0000" textLength="129" lengthAdjust="spacingAndGlyphs">CeO<tspan font-size="12" dy="4.3">2-<tspan font-style="italic">x</tspan></tspan><tspan dy="-4.3"> capping</tspan></text>
<text x="935.9" y="300.4" font-size="16.4" textLength="88" lengthAdjust="spacingAndGlyphs">Pt/FE/LSMO</text>
<text x="1138.5" y="288.7" font-size="16.4" textLength="54.6" lengthAdjust="spacingAndGlyphs">M/FE/M</text>
<path d="M925.0 124.3H1284" stroke="#3c3c3c" stroke-width="1.05" stroke-dasharray="4.2 3.1" stroke-dashoffset="2.2" fill="none"/>
<path d="M1199.8 22.5V330.8" stroke="#3c3c3c" stroke-width="1.05" stroke-dasharray="4.5 3.3" stroke-dashoffset="1.5" fill="none"/>
</svg>
</body></html>
